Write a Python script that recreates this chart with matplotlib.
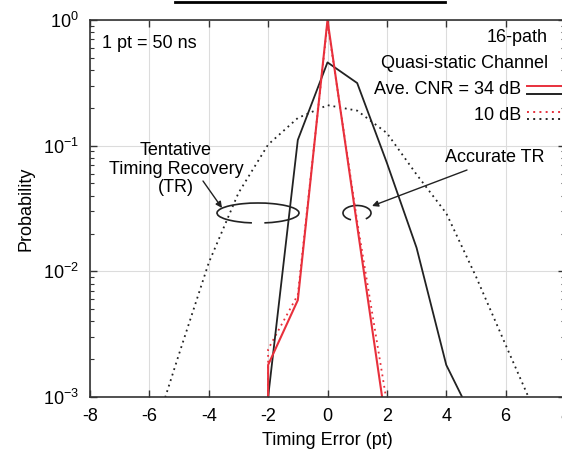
import numpy as np
import matplotlib
matplotlib.use("Agg")
import matplotlib.pyplot as plt
from matplotlib.lines import Line2D
from matplotlib.patches import Arc

plt.rcParams['font.family'] = ['Liberation Sans', 'DejaVu Sans']
plt.rcParams['mathtext.fontset'] = 'custom'
plt.rcParams['mathtext.rm'] = 'Liberation Sans'
plt.rcParams['mathtext.it'] = 'Liberation Sans:italic'

# timing error (pt) and probabilities
x_acc = [-3, -2, -1, 0, 1, 2, 3]
p_acc_34 = [0, 1.8e-3, 5.9e-3, 1.0, 0.023, 5.5e-4, 0]
p_acc_10 = [0, 2.4e-3, 6.5e-3, 0.95, 0.025, 9e-4, 0]

x_tent_34 = [-3, -2, -1, 0, 1, 2, 3, 4, 5, 6]
p_tent_34 = [0, 1.0e-3, 0.111, 0.46, 0.315, 0.073, 0.0154, 1.8e-3, 6e-4, 0]

x_tent_10 = [-6, -5, -4, -3, -2, -1, 0, 1, 2, 3, 4, 5, 6, 7]
p_tent_10 = [4e-4, 2.2e-3, 0.0117, 0.042, 0.102, 0.166, 0.21, 0.19, 0.126,
             0.059, 0.029, 9.1e-3, 2.6e-3, 7.5e-4]

xticks = [-8, -6, -4, -2, 0, 2, 4, 6, 8]
yticks = [1e-3, 1e-2, 1e-1, 1e0]

RED = '#e8303c'
INK = '#222222'
FS = 13
W, H = 562, 454
L, R, T, B = 90, 565, 20, 397

fig = plt.figure(figsize=(W / 100, H / 100), dpi=100)
ax = fig.add_axes([L / W, 1 - B / H, (R - L) / W, (B - T) / H])


def af(px, py):
    # picture pixels -> axes fraction
    return (px - L) / (R - L), (B - py) / (B - T)


ax.set_yscale('log', nonpositive='clip')
ax.plot(x_tent_10, p_tent_10, color=INK, lw=1.3, ls=(0, (1, 2.2)))
ax.plot(x_acc, p_acc_10, color=RED, lw=1.3, ls=(0, (1, 2.2)))
ax.plot(x_tent_34, p_tent_34, color=INK, lw=1.3)
ax.plot(x_acc, p_acc_34, color=RED, lw=1.5)

ax.set_xlim(-8, 8)
ax.set_ylim(1e-3, 1)
ax.set_xticks(xticks)
ax.set_xticklabels([str(v) for v in xticks])
ax.set_yticks(yticks)
ax.grid(True, which='major', color='#dcdcdc', lw=0.8)
ax.set_axisbelow(True)
ax.tick_params(which='both', direction='in', top=True, right=True,
               labelsize=FS, color='#333333')
ax.tick_params(which='major', length=5, width=1)
ax.tick_params(which='minor', length=3, width=0.8)
ax.tick_params(axis='x', pad=8)
ax.tick_params(axis='y', pad=8)
for s in ax.spines.values():
    s.set_linewidth(1.2)
    s.set_color('#333333')

ax.set_xlabel('Timing Error (pt)', fontsize=FS, labelpad=5)
ax.set_ylabel('Probability', fontsize=FS, labelpad=6)

# texts
ax.text(*af(102, 43), '1 pt = 50 ns', transform=ax.transAxes, fontsize=FS,
        va='center', ha='left')
ax.text(*af(548, 37), '16-path', transform=ax.transAxes, fontsize=FS,
        va='center', ha='right')
ax.text(*af(548, 63), 'Quasi-static Channel', transform=ax.transAxes,
        fontsize=FS, va='center', ha='right')
ax.text(*af(521, 90), 'Ave. CNR = 34 dB', transform=ax.transAxes,
        fontsize=FS, va='center', ha='right')
ax.text(*af(521, 115), '10 dB', transform=ax.transAxes, fontsize=FS,
        va='center', ha='right')

# legend samples
for py, col, ls in [(86, RED, '-'), (94, INK, '-'),
                    (112, RED, (0, (1, 2.2))), (119, INK, (0, (1, 2.2)))]:
    x0, y0 = af(527, py)
    x1, _ = af(566, py)
    ax.add_line(Line2D([x0, x1], [y0, y0], transform=ax.transAxes, color=col,
                       lw=1.4, ls=ls, clip_on=False))

ax.text(*af(176, 169), 'Tentative\nTiming Recovery\n(TR)', transform=ax.transAxes,
        fontsize=FS, va='center', ha='center', linespacing=1.1)
ax.text(*af(495, 157), 'Accurate TR', transform=ax.transAxes, fontsize=FS,
        va='center', ha='center')

# rings around the curves
cx, cy = af(258, 213)
ax.add_patch(Arc((cx, cy), 82 / (R - L), 20 / (B - T), theta1=297, theta2=244,
                 transform=ax.transAxes, color=INK, lw=1.2))
cx, cy = af(357, 213)
ax.add_patch(Arc((cx, cy), 28 / (R - L), 15 / (B - T), theta1=320, theta2=235,
                 transform=ax.transAxes, color=INK, lw=1.2))

ax.annotate('', xy=af(222, 208), xytext=af(203, 181), xycoords='axes fraction',
            textcoords='axes fraction',
            arrowprops=dict(arrowstyle='-|>', color=INK, lw=1.0,
                            mutation_scale=9, shrinkA=0, shrinkB=0))
ax.annotate('', xy=af(372, 206), xytext=af(467, 170), xycoords='axes fraction',
            textcoords='axes fraction',
            arrowprops=dict(arrowstyle='-|>', color=INK, lw=1.0,
                            mutation_scale=9, shrinkA=0, shrinkB=0))

# cut-off line at the very top of the picture
fig.add_artist(Line2D([175 / W, 445 / W], [1 - 2 / H, 1 - 2 / H],
                      transform=fig.transFigure, color='black', lw=2))

fig.savefig('out.png', dpi=100)
